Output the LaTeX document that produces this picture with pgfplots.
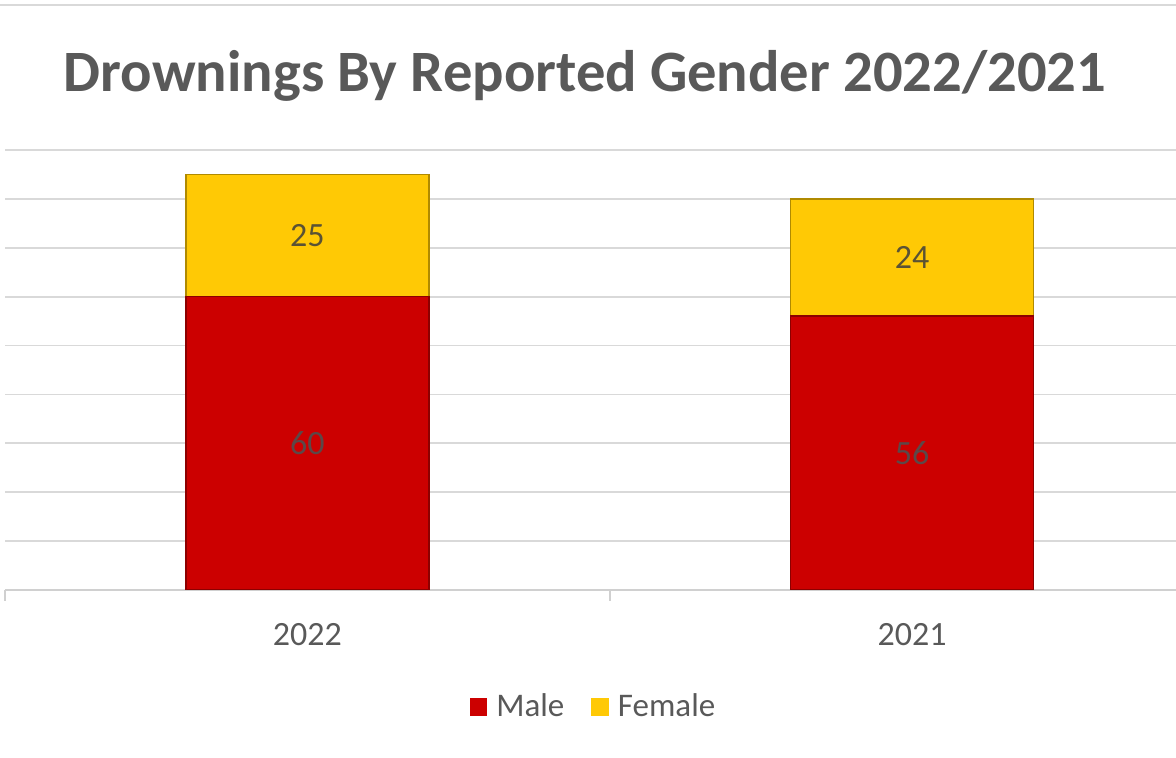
\documentclass[border=0pt]{standalone}
\usepackage{fontspec}
\setmainfont{Carlito}
\usepackage{pgfplots}
\usepackage{pgfplotstable}
\pgfplotsset{compat=1.18}
\definecolor{malered}{HTML}{CC0000}
\definecolor{maledark}{HTML}{8C0000}
\definecolor{femgold}{HTML}{FFC905}
\definecolor{femdark}{HTML}{B08A00}
\definecolor{gridgray}{HTML}{D9D9D9}
\definecolor{axisgray}{HTML}{D0D0D0}
\definecolor{txtgray}{HTML}{595959}
\pgfplotstableread{
x male female
0 60 25
1 56 24
}\data
\begin{document}
\begin{tikzpicture}[x=1pt,y=1pt]
\useasboundingbox (-2.5,-84) rectangle (585.5,295);
\draw[gridgray, line width=0.9pt] (-2.5,292.5) -- (585.5,292.5);
\node[text=txtgray, font=\fontsize{29.3}{35}\selectfont\bfseries] at (290,257) {Drownings By Reported Gender 2022/2021};
\begin{axis}[
  at={(0,0)}, anchor=south west, scale only axis,
  width=585.5pt, height=220pt,
  xmin=-0.5, xmax=1.4364, ymin=0, ymax=90,
  ybar stacked, bar width=121.5pt,
  /pgf/number format/assume math mode=true,
  axis x line*=bottom, axis y line*=left,
  x axis line style={axisgray, line width=1pt, -},
  y axis line style={draw=none},
  xtick={0,1}, xticklabels={2022,2021},
  major tick length=0pt,
  extra x ticks={-0.5,0.5}, extra x tick labels={},
  extra x tick style={tick align=outside, major tick length=5.5pt, major tick style={axisgray, line width=1pt}},
  ytick={10,20,...,90}, yticklabels={},
  ymajorgrids, major grid style={gridgray, line width=0.9pt},
  xticklabel style={anchor=base, yshift=-28pt, text=txtgray, font=\fontsize{17}{20}\selectfont},
  legend style={at={(0.5034,-0.266)}, anchor=center, draw=none, fill=none, legend columns=-1,
    font=\fontsize{16.5}{20}\selectfont, text=txtgray,
    /tikz/every odd column/.append style={column sep=2.5pt},
    /tikz/every even column/.append style={column sep=11.5pt}},
  legend cell align=left,
]
\addplot[fill=malered, draw=maledark, line width=0.8pt,
  point meta=explicit,
  nodes near coords,
  nodes near coords style={anchor=center, text={rgb,255:red,92;green,72;blue,72}, font=\fontsize{17}{20}\selectfont},
  legend image code/.code={\fill[malered] (0pt,-4pt) rectangle (8pt,4pt);}]
  table[x=x, y=male, meta=male] {\data};
\addlegendentry{Male}
\addplot[fill=femgold, draw=femdark, line width=0.8pt,
  point meta=explicit,
  nodes near coords,
  nodes near coords style={anchor=center, text={rgb,255:red,90;green,82;blue,52}, font=\fontsize{17}{20}\selectfont},
  legend image code/.code={\fill[femgold] (0pt,-4pt) rectangle (8pt,4pt);}]
  table[x=x, y=female, meta=female] {\data};
\addlegendentry{Female}
\end{axis}
\end{tikzpicture}
\end{document}
